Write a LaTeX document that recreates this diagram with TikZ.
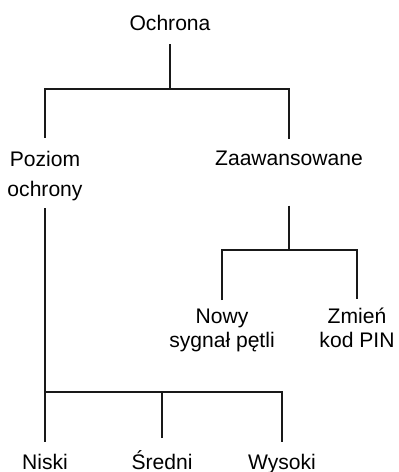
\documentclass[tikz,border=0pt]{standalone}
\usepackage{fontspec}
\setmainfont{Liberation Sans}
\usetikzlibrary{positioning}

\tikzset{
    lbl/.style={font=\fontsize{12}{17.6}\selectfont, align=center, inner sep=0.25cm, anchor=base},
    tightlbl/.style={font=\fontsize{12}{14.2}\selectfont, inner sep=0.16cm},
    branch/.style={line width=1.4pt, color=black!90}
}

\begin{document}
\begin{tikzpicture}

    % --- Frame ---
    \useasboundingbox (0,0) rectangle (7.96,9.44);

    % --- Labels (base = last line) ---
    \node[lbl] (ochrona) at (3.40,8.82) {Ochrona};
    \node[lbl] (poziom) at (0.90,5.50) {Poziom\\ochrony};
    \node[lbl] (zaaw) at (5.78,6.12) {Zaawansowane};
    \node[lbl, tightlbl] (nowy) at (4.44,2.48) {Nowy\\sygnał pętli};
    \node[lbl, tightlbl] (pin) at (7.14,2.48) {Zmień\\kod PIN};
    \node[lbl] (niski) at (0.90,0.04) {Niski};
    \node[lbl] (sredni) at (3.24,0.04) {Średni};
    \node[lbl] (wysoki) at (5.64,0.04) {Wysoki};

    % --- Branch points ---
    \coordinate (topbar) at (3.40,7.66);
    \coordinate (midbar) at (5.78,4.44);
    \coordinate (lowbar) at (0.90,1.60);

    % --- Tree ---
    \draw[branch] (ochrona.south) -- (topbar);
    \draw[branch] (poziom.north) |- (topbar) -| (zaaw.north);
    \draw[branch] ([yshift=-0.53cm]zaaw.south) -- (midbar);
    \draw[branch] (nowy.north) |- (midbar) -| (pin.north);
    \draw[branch] ([yshift=0.12cm]poziom.south) -- (niski.north);
    \draw[branch] (lowbar) -| (wysoki.north);
    \draw[branch] (sredni.north) -- (sredni.north |- lowbar);

\end{tikzpicture}
\end{document}
